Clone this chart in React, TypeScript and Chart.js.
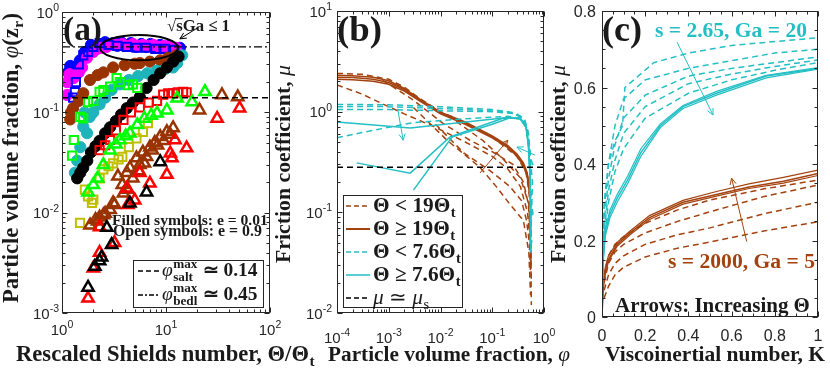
import React, { useEffect, useRef } from "react";
import { Chart, registerables } from "chart.js";

Chart.register(...registerables);

const CW = 830;
const CH = 369;
const SERIF = '"Liberation Serif", "Times New Roman", serif';
const SANS = '"Liberation Sans", Arial, Helvetica, sans-serif';
const AX = "#262626";
const TXT = "#1a1a1a";

const C_BLUE = "#0000ff";
const C_MAG = "#ff00ff";
const C_BRN_A = "#993300";
const C_CYA_A = "#1fb3bb";
const C_BLK = "#000000";
const C_GRN = "#00ff00";
const C_RED = "#ff0000";
const C_OLV = "#bfbf00";
const C_BRN = "#a3420f";
const C_CYA = "#23bfc4";

// ---------------- Panel (a) data ----------------
const aBlueCircX = [1.14, 1.2, 1.3, 1.43, 1.49, 1.66, 1.9, 2.3, 2.6, 2.8, 3.1, 3.4, 3.7, 4.2, 4.6, 5.2, 5.8, 6.4, 7.1, 7.9, 8.8, 9.7, 10.8, 12.0, 13.6];
const aBlueCircY = [0.25, 0.29, 0.27, 0.26, 0.33, 0.4, 0.47, 0.48, 0.5, 0.47, 0.49, 0.46, 0.5, 0.46, 0.49, 0.45, 0.48, 0.45, 0.48, 0.45, 0.47, 0.44, 0.46, 0.44, 0.44];
const aBlueSqX = [1.28, 1.33, 1.36, 1.45, 1.6, 1.78, 2.0, 2.3, 2.8, 3.4, 4.2, 5.2, 6.4, 7.9, 9.7, 12];
const aBlueSqY = [0.14, 0.159, 0.2, 0.3, 0.37, 0.4, 0.45, 0.49, 0.47, 0.46, 0.45, 0.44, 0.44, 0.43, 0.43, 0.42];
const aMagCircX = [1.12, 1.12, 1.18, 1.3, 1.45, 1.56, 1.74, 2.0, 2.2, 2.4, 2.7, 3.0, 3.3, 3.8, 4.3, 4.8, 5.4, 6.0, 6.8, 7.6, 8.6, 9.6, 10.8, 12.5];
const aMagCircY = [0.149, 0.2, 0.24, 0.22, 0.25, 0.28, 0.35, 0.4, 0.43, 0.44, 0.45, 0.47, 0.47, 0.48, 0.46, 0.48, 0.46, 0.47, 0.46, 0.47, 0.45, 0.46, 0.45, 0.44];
const aBrnCircX = [1.2, 1.22, 1.28, 1.45, 1.6, 1.86, 2.2, 2.5, 3.1, 4.0, 5.0, 5.6, 7.0, 8.8, 10.5, 12.5];
const aBrnCircY = [0.085, 0.1, 0.11, 0.13, 0.155, 0.21, 0.235, 0.25, 0.28, 0.295, 0.305, 0.31, 0.32, 0.33, 0.35, 0.37];
const aCyaCircX = [1.33, 1.4, 1.5, 1.6, 1.65, 1.74, 1.85, 2.0, 2.3, 2.6, 3.0, 3.6, 4.4, 5.4, 6.6, 8.1, 9.8, 11.7, 12.8, 14.3];
const aCyaCircY = [0.025, 0.033, 0.045, 0.072, 0.1, 0.062, 0.09, 0.1, 0.12, 0.14, 0.167, 0.19, 0.21, 0.23, 0.245, 0.26, 0.27, 0.28, 0.31, 0.37];
const aBlkCircX = [1.4, 1.5, 1.6, 1.75, 1.9, 2.1, 2.3, 2.6, 2.9, 3.3, 3.7, 4.2, 4.8, 5.6, 6.5, 7.6, 8.8, 10.2, 11.7, 13.2];
const aBlkCircY = [0.022, 0.025, 0.028, 0.033, 0.04, 0.046, 0.052, 0.062, 0.071, 0.082, 0.095, 0.11, 0.125, 0.142, 0.175, 0.21, 0.245, 0.28, 0.32, 0.36];
const aGrnSqX = [1.25, 1.3, 1.49, 1.6, 1.78, 2.0, 2.3, 2.5, 2.9, 3.35, 3.6, 4.3, 4.8, 5.3];
const aGrnSqY = [0.037, 0.053, 0.09, 0.087, 0.126, 0.13, 0.16, 0.167, 0.18, 0.22, 0.2, 0.187, 0.19, 0.175];
const aRedSqX = [2.3, 2.6, 2.9, 3.3, 3.9, 4.6, 5.6, 6.8, 8.2, 9.4, 10.5, 11.7, 13, 14.6, 15.8];
const aRedSqY = [0.042, 0.047, 0.053, 0.066, 0.084, 0.1, 0.112, 0.125, 0.13, 0.15, 0.155, 0.155, 0.158, 0.16, 0.158];
const aOlvSqX = [1.49, 1.66, 1.78, 1.94, 2.0, 2.3, 2.5, 2.8, 3.1, 3.5, 3.8, 4.4, 5.2, 6.0, 6.7];
const aOlvSqY = [0.0079, 0.017, 0.0145, 0.0125, 0.0135, 0.022, 0.027, 0.029, 0.031, 0.034, 0.036, 0.045, 0.055, 0.064, 0.078];
const aGrnTriX = [1.78, 2.0, 2.2, 2.5, 2.9, 3.3, 3.6, 4.1, 4.5, 5.3, 6.2, 7.2, 8.2, 10.2, 12.8, 17.8, 23.7];
const aGrnTriY = [0.016, 0.019, 0.022, 0.03, 0.042, 0.048, 0.053, 0.058, 0.062, 0.075, 0.087, 0.093, 0.098, 0.105, 0.138, 0.127, 0.16];
const aBrnTriX = [1.86, 2.1, 2.2, 2.3, 2.5, 2.6, 2.9, 3.1, 3.2, 3.45, 3.8, 3.9, 4.2, 4.3, 4.5, 4.8, 5.2, 5.5, 5.6, 6.0, 6.2, 6.5, 7.0, 7.4, 7.8, 8.3, 8.8, 9.5, 10.2, 11, 11.7, 21, 34.5, 49];
const aBrnTriY = [0.0075, 0.0085, 0.0082, 0.009, 0.0095, 0.0098, 0.0107, 0.0125, 0.012, 0.023, 0.019, 0.0156, 0.025, 0.017, 0.028, 0.022, 0.035, 0.026, 0.03, 0.04, 0.031, 0.036, 0.045, 0.042, 0.05, 0.047, 0.057, 0.052, 0.064, 0.06, 0.07, 0.105, 0.149, 0.142];
const aRedTriX = [1.78, 2.0, 2.3, 2.3, 3.2, 4.2, 4.3, 5.0, 5.6, 7.0, 10.2, 11.0, 11.4, 12.2, 15.8, 31, 51];
const aRedTriY = [0.0014, 0.0028, 0.004, 0.0072, 0.005, 0.0175, 0.012, 0.0133, 0.025, 0.0196, 0.024, 0.039, 0.035, 0.053, 0.044, 0.087, 0.11];
const aBlkTriX = [1.78, 2.07, 2.3, 2.4, 2.7, 3.0, 4.5, 6.5, 8.8];
const aBlkTriY = [0.0018, 0.0029, 0.0033, 0.0036, 0.0071, 0.0048, 0.0124, 0.016, 0.032];
const aLimX = [1, 100];
const aSaltMax = 0.14;
const aBedlMax = 0.45;
const aEllipseX = [2.32, 13.0];
const aEllipseY = [0.33, 0.59];
const aArrowX = [19.9, 13.6];
const aArrowY = [0.69, 0.54];

const aXTicks = [1, 10, 100];
const aXExp = ["0", "1", "2"];
const aYTicks = [0.001, 0.01, 0.1, 1];
const aYExp = ["-3", "-2", "-1", "0"];

// ---------------- Panel (b) data ----------------
const bSolX = [1e-4, 2e-4, 5e-4, 1e-3, 2e-3, 4e-3, 1e-2, 3e-2, 0.1, 0.2, 0.3, 0.4, 0.47, 0.5, 0.52, 0.53];
const bBrnS1Y = [2.2, 2.18, 2.1, 1.95, 1.65, 1.3, 0.97, 0.77, 0.56, 0.45, 0.37, 0.3, 0.24, 0.2, 0.17, 0.15];
const bBrnS2Y = [2.1, 2.08, 2.0, 1.87, 1.6, 1.27, 0.95, 0.75, 0.55, 0.44, 0.36, 0.29, 0.23, 0.19, 0.16, 0.14];
const bBrnS3Y = [2.3, 2.27, 2.2, 2.03, 1.7, 1.33, 0.99, 0.79, 0.575, 0.46, 0.38, 0.31, 0.25, 0.21, 0.18, 0.16];
const bBrnD1X = [1e-4, 3e-4, 1e-3, 2e-3, 4e-3, 1e-2, 3e-2, 0.1, 0.3, 0.45, 0.52, 0.55, 0.57];
const bBrnD1Y = [2.4, 2.35, 2.1, 1.75, 1.35, 1.0, 0.78, 0.56, 0.36, 0.25, 0.15, 0.06, 0.012];
const bBrnD2X = [1e-4, 3e-4, 7e-4, 2e-3, 8e-3, 3e-2, 0.1, 0.2, 0.35, 0.48, 0.55, 0.57];
const bBrnD2Y = [1.84, 1.5, 1.22, 0.95, 0.7, 0.5, 0.36, 0.27, 0.18, 0.1, 0.045, 0.02];
const bBrnD3X = [7.7e-4, 3e-3, 1.1e-2, 3.7e-2, 0.1, 0.25, 0.4, 0.5, 0.55, 0.56];
const bBrnD3Y = [2.05, 1.3, 0.77, 0.52, 0.4, 0.3, 0.2, 0.12, 0.05, 0.03];
const bBrnD4X = [3e-3, 1.34e-2, 5.8e-2, 0.12, 0.22, 0.4, 0.51, 0.55];
const bBrnD4Y = [1.1, 0.52, 0.28, 0.18, 0.12, 0.083, 0.04, 0.015];
const bBrnD5X = [8e-3, 2.8e-2, 9e-2, 0.22, 0.37, 0.46, 0.52, 0.55];
const bBrnD5Y = [0.75, 0.39, 0.26, 0.18, 0.13, 0.083, 0.05, 0.025];
const bBrnD6X = [2e-2, 6.5e-2, 0.17, 0.35, 0.51, 0.55, 0.56];
const bBrnD6Y = [0.8, 0.52, 0.33, 0.22, 0.12, 0.06, 0.03];
const bCyaD1X = [1e-4, 1e-3, 1e-2, 0.1, 0.25, 0.35, 0.45, 0.5, 0.53, 0.55, 0.56, 0.57, 0.56];
const bCyaD1Y = [1.18, 1.17, 1.12, 1.05, 0.98, 0.88, 0.7, 0.5, 0.3, 0.15, 0.08, 0.05, 0.04];
const bCyaD2X = [1e-4, 5e-4, 3e-3, 3e-2, 0.2, 0.35, 0.45, 0.52, 0.55, 0.58, 0.56, 0.58];
const bCyaD2Y = [1.12, 1.13, 1.1, 1.05, 1.0, 0.9, 0.72, 0.42, 0.2, 0.1, 0.07, 0.05];
const bCyaD3X = [1e-4, 1e-3, 1e-2, 0.1, 0.3, 0.42, 0.5, 0.54, 0.6, 0.58, 0.62];
const bCyaD3Y = [1.05, 1.05, 1.02, 1.0, 0.95, 0.85, 0.62, 0.35, 0.2, 0.12, 0.09];
const bCyaD4X = [1e-4, 3e-4, 3e-3, 0.03, 0.2, 0.4, 0.5, 0.55, 0.6, 0.65];
const bCyaD4Y = [0.55, 0.62, 0.78, 0.85, 0.9, 0.85, 0.6, 0.35, 0.3, 0.3];
const bCyaS1X = [1e-4, 2.6e-3, 0.22, 0.35, 0.45, 0.5, 0.53, 0.55, 0.54, 0.56, 0.55];
const bCyaS1Y = [0.79, 0.69, 0.88, 0.85, 0.7, 0.45, 0.25, 0.12, 0.07, 0.05, 0.04];
const bCyaS2X = [2.4e-4, 2.6e-3, 0.0153, 0.16, 0.35, 0.45, 0.5, 0.53, 0.55, 0.56];
const bCyaS2Y = [0.31, 0.245, 0.56, 0.86, 0.86, 0.72, 0.5, 0.28, 0.12, 0.06];
const bCyaS3X = [3.0e-3, 1.67e-2, 0.1, 0.22, 0.35, 0.45, 0.5, 0.54, 0.55, 0.54];
const bCyaS3Y = [0.166, 0.56, 0.75, 0.87, 0.84, 0.7, 0.48, 0.22, 0.1, 0.05];
const bLimX = [1e-4, 1];
const bMuS = 0.28;
const bArrowCyaX = [1.5e-3, 1.9e-3];
const bArrowCyaY = [1.04, 0.52];
const bArrowCya2X = [0.67, 0.3];
const bArrowCya2Y = [0.37, 0.445];
const bArrowBrnX = [0.058, 0.2];
const bArrowBrnY = [0.246, 0.52];

const bXTicks = [1e-4, 1e-3, 1e-2, 1e-1, 1];
const bXExp = ["-4", "-3", "-2", "-1", "0"];
const bYTicks = [0.01, 0.1, 1, 10];
const bYExp = ["-2", "-1", "0", "1"];

// ---------------- Panel (c) data ----------------
const cCyaD1X = [0, 0.01, 0.03, 0.06, 0.095, 0.106, 0.24, 0.4, 0.6, 0.8, 1];
const cCyaD1Y = [0.1, 0.3, 0.4, 0.46, 0.5, 0.6, 0.665, 0.69, 0.71, 0.72, 0.73];
const cCyaDX = [0, 0.01, 0.03, 0.06, 0.1, 0.2, 0.4, 0.6, 0.8, 1];
const cCyaD2Y = [0.1, 0.28, 0.4, 0.5, 0.57, 0.62, 0.65, 0.67, 0.69, 0.7];
const cCyaD3Y = [0.08, 0.25, 0.36, 0.45, 0.52, 0.58, 0.63, 0.65, 0.665, 0.68];
const cCyaD4Y = [0.07, 0.22, 0.33, 0.41, 0.48, 0.55, 0.61, 0.635, 0.655, 0.672];
const cCyaD5Y = [0.06, 0.2, 0.3, 0.38, 0.44, 0.52, 0.585, 0.62, 0.645, 0.665];
const cCyaSX = [0, 0.005, 0.015, 0.037, 0.07, 0.12, 0.18, 0.27, 0.375, 0.53, 0.76, 1.0];
const cCyaS1Y = [0.05, 0.15, 0.22, 0.27, 0.31, 0.36, 0.43, 0.5, 0.55, 0.585, 0.63, 0.65];
const cCyaS2Y = [0.06, 0.16, 0.23, 0.28, 0.32, 0.37, 0.44, 0.505, 0.553, 0.59, 0.632, 0.652];
const cCyaS3Y = [0.04, 0.14, 0.21, 0.26, 0.3, 0.35, 0.42, 0.495, 0.545, 0.58, 0.625, 0.648];
const cBrnSX = [0, 0.005, 0.015, 0.03, 0.07, 0.13, 0.22, 0.375, 0.53, 0.68, 0.84, 1.0];
const cBrnS1Y = [0.0, 0.08, 0.12, 0.15, 0.19, 0.22, 0.26, 0.3, 0.32, 0.34, 0.355, 0.375];
const cBrnS2Y = [0.01, 0.09, 0.13, 0.16, 0.195, 0.225, 0.265, 0.305, 0.328, 0.348, 0.365, 0.384];
const cBrnS3Y = [0.0, 0.07, 0.11, 0.145, 0.185, 0.215, 0.255, 0.295, 0.316, 0.336, 0.35, 0.37];
const cBrnDX = [0.01, 0.03, 0.06, 0.1, 0.2, 0.35, 0.5, 0.75, 1];
const cBrnD1Y = [0.11, 0.16, 0.19, 0.21, 0.245, 0.28, 0.306, 0.335, 0.358];
const cBrnD2Y = [0.09, 0.14, 0.17, 0.19, 0.22, 0.25, 0.275, 0.315, 0.345];
const cBrnD3Y = [0.07, 0.11, 0.14, 0.16, 0.19, 0.215, 0.233, 0.27, 0.3];
const cBrnD4Y = [0.05, 0.08, 0.11, 0.13, 0.157, 0.18, 0.196, 0.225, 0.249];
const cArrowCyaX = [0.347, 0.514];
const cArrowCyaY = [0.719, 0.528];
const cArrowBrnX = [0.67, 0.6];
const cArrowBrnY = [0.197, 0.363];

const cXTicks = [0, 0.2, 0.4, 0.6, 0.8, 1];
const cXLabels = ["0", "0.2", "0.4", "0.6", "0.8", "1"];
const cYTicks = [0, 0.2, 0.4, 0.6, 0.8];
const cYLabels = ["0", "0.2", "0.4", "0.6", "0.8"];

// ---------------- helpers ----------------
function pts(xs: number[], ys: number[]) {
  return xs.map((x, i) => ({ x, y: ys[i] }));
}

function marks(xs: number[], ys: number[], style: string, color: string, filled: boolean, r: number, bw: number) {
  const fill = filled ? color : "rgba(0,0,0,0)";
  return {
    data: pts(xs, ys),
    showLine: false,
    pointStyle: style,
    pointRadius: r,
    pointHoverRadius: r,
    pointBackgroundColor: fill,
    pointBorderColor: color,
    pointBorderWidth: bw,
    backgroundColor: fill,
    borderColor: color,
  };
}

function line(xs: number[], ys: number[], color: string, dash: number[], lw: number) {
  return {
    data: pts(xs, ys),
    showLine: true,
    borderColor: color,
    backgroundColor: color,
    borderWidth: lw,
    borderDash: dash,
    pointRadius: 0,
    pointHoverRadius: 0,
    fill: false,
    tension: 0,
  };
}

function logMinor(e0: number, e1: number) {
  const out: number[] = [];
  for (let e = e0; e < e1; e++) for (let m = 2; m <= 9; m++) out.push(m * Math.pow(10, e));
  return out;
}
function linMinor(a: number, b: number, step: number) {
  const out: number[] = [];
  for (let v = a; v <= b + 1e-9; v += step) out.push(+v.toFixed(6));
  return out;
}

type Seg = { t?: string; sub?: string; sup?: string; it?: boolean; bold?: boolean; ol?: boolean };

function fnt(size: number, it?: boolean, bold?: boolean) {
  return `${it ? "italic " : ""}${bold ? "bold " : ""}${size.toFixed(2)}px ${SERIF}`;
}
function segW(ctx: CanvasRenderingContext2D, s: Seg, size: number, defBold: boolean) {
  const b = s.bold ?? defBold;
  if (s.t !== undefined) {
    ctx.font = fnt(size, s.it, b);
    return ctx.measureText(s.t).width;
  }
  ctx.font = fnt(size * 0.68, s.it, b);
  const w1 = s.sup ? ctx.measureText(s.sup).width : 0;
  const w2 = s.sub ? ctx.measureText(s.sub).width : 0;
  return Math.max(w1, w2) + size * 0.04;
}
function richW(ctx: CanvasRenderingContext2D, segs: Seg[], size: number, defBold: boolean) {
  return segs.reduce((a, s) => a + segW(ctx, s, size, defBold), 0);
}
function richDraw(ctx: CanvasRenderingContext2D, segs: Seg[], x: number, y: number, size: number, defBold: boolean, color: string) {
  ctx.fillStyle = color;
  ctx.strokeStyle = color;
  ctx.textAlign = "left";
  ctx.textBaseline = "alphabetic";
  let cx = x;
  for (const s of segs) {
    const w = segW(ctx, s, size, defBold);
    const b = s.bold ?? defBold;
    if (s.t !== undefined) {
      ctx.font = fnt(size, s.it, b);
      ctx.fillText(s.t, cx, y);
      if (s.ol) {
        ctx.lineWidth = Math.max(1, size * 0.06);
        ctx.beginPath();
        ctx.moveTo(cx - 1, y - size * 0.74);
        ctx.lineTo(cx + w, y - size * 0.74);
        ctx.stroke();
      }
    } else {
      ctx.font = fnt(size * 0.68, s.it, b);
      if (s.sup) ctx.fillText(s.sup, cx + size * 0.02, y - size * 0.42);
      if (s.sub) ctx.fillText(s.sub, cx + size * 0.02, y + size * 0.24);
    }
    cx += w;
  }
}
type TextSpec = { segs: Seg[]; x: number; y: number; w: number; align?: string; rot?: boolean; bold?: boolean; color?: string; size?: number };
function fitSize(ctx: CanvasRenderingContext2D, segs: Seg[], w: number, bold: boolean) {
  return (20 * w) / richW(ctx, segs, 20, bold);
}
function drawText(ctx: CanvasRenderingContext2D, ts: TextSpec) {
  const bold = ts.bold ?? true;
  const size = ts.size ?? fitSize(ctx, ts.segs, ts.w, bold);
  const w = richW(ctx, ts.segs, size, bold);
  ctx.save();
  ctx.translate(ts.x, ts.y);
  if (ts.rot) ctx.rotate(-Math.PI / 2);
  const off = ts.align === "center" ? -w / 2 : ts.align === "right" ? -w : 0;
  richDraw(ctx, ts.segs, off, 0, size, bold, ts.color ?? TXT);
  ctx.restore();
  return size;
}

function arrow(ctx: CanvasRenderingContext2D, x1: number, y1: number, x2: number, y2: number, color: string, lw = 1, head = 7) {
  ctx.save();
  ctx.strokeStyle = color;
  ctx.lineWidth = lw;
  ctx.setLineDash([]);
  ctx.beginPath();
  ctx.moveTo(x1, y1);
  ctx.lineTo(x2, y2);
  const a = Math.atan2(y2 - y1, x2 - x1);
  ctx.moveTo(x2 - head * Math.cos(a - 0.45), y2 - head * Math.sin(a - 0.45));
  ctx.lineTo(x2, y2);
  ctx.lineTo(x2 - head * Math.cos(a + 0.45), y2 - head * Math.sin(a + 0.45));
  ctx.stroke();
  ctx.restore();
}
function P(chart: any, x: number, y: number) {
  return [chart.scales.x.getPixelForValue(x), chart.scales.y.getPixelForValue(y)];
}
function dataArrow(chart: any, xs: number[], ys: number[], color: string) {
  const [x1, y1] = P(chart, xs[0], ys[0]);
  const [x2, y2] = P(chart, xs[1], ys[1]);
  arrow(chart.ctx, x1, y1, x2, y2, color, 1, 7);
}

type TL = { base: string; exp?: string };
function tlW(ctx: CanvasRenderingContext2D, l: TL, fs: number) {
  ctx.font = `${fs}px ${SANS}`;
  let w = ctx.measureText(l.base).width;
  if (l.exp) {
    ctx.font = `${(fs * 0.7).toFixed(1)}px ${SANS}`;
    w += ctx.measureText(l.exp).width;
  }
  return w;
}
function tlDraw(ctx: CanvasRenderingContext2D, l: TL, x: number, y: number, fs: number) {
  ctx.textAlign = "left";
  ctx.textBaseline = "alphabetic";
  ctx.font = `${fs}px ${SANS}`;
  ctx.fillText(l.base, x, y);
  if (l.exp) {
    const w0 = ctx.measureText(l.base).width;
    ctx.font = `${(fs * 0.7).toFixed(1)}px ${SANS}`;
    ctx.fillText(l.exp, x + w0, y - fs * 0.45);
  }
}

type FrameCfg = {
  xMaj: number[];
  xMin: number[];
  yMaj: number[];
  yMin: number[];
  xLab: TL[];
  yLab: TL[];
  fs: number;
  xLabBase: number;
  yLabGap: number;
  extras?: (chart: any, ctx: CanvasRenderingContext2D) => void;
};

function framePlugin(id: string, fc: FrameCfg) {
  return {
    id,
    afterDraw(chart: any) {
      const ctx = chart.ctx as CanvasRenderingContext2D;
      const ca = chart.chartArea;
      const xs = chart.scales.x;
      const ys = chart.scales.y;
      ctx.save();
      if (fc.extras) fc.extras(chart, ctx);
      const L = Math.round(ca.left) + 0.5;
      const R = Math.round(ca.right) - 0.5;
      const T = Math.round(ca.top) + 0.5;
      const B = Math.round(ca.bottom) - 0.5;
      ctx.strokeStyle = AX;
      ctx.lineWidth = 1;
      ctx.setLineDash([]);
      ctx.beginPath();
      const tx = (v: number, len: number) => {
        const p = Math.round(xs.getPixelForValue(v)) + 0.5;
        ctx.moveTo(p, B);
        ctx.lineTo(p, B - len);
        ctx.moveTo(p, T);
        ctx.lineTo(p, T + len);
      };
      const ty = (v: number, len: number) => {
        const p = Math.round(ys.getPixelForValue(v)) + 0.5;
        ctx.moveTo(L, p);
        ctx.lineTo(L + len, p);
        ctx.moveTo(R, p);
        ctx.lineTo(R - len, p);
      };
      fc.xMaj.forEach((v) => tx(v, 5));
      fc.xMin.forEach((v) => tx(v, 3));
      fc.yMaj.forEach((v) => ty(v, 5));
      fc.yMin.forEach((v) => ty(v, 3));
      ctx.stroke();
      ctx.strokeRect(L, T, R - L, B - T);
      ctx.fillStyle = AX;
      fc.xMaj.forEach((v, i) => {
        const l = fc.xLab[i];
        const w = tlW(ctx, l, fc.fs);
        tlDraw(ctx, l, xs.getPixelForValue(v) - w / 2, fc.xLabBase, fc.fs);
      });
      fc.yMaj.forEach((v, i) => {
        const l = fc.yLab[i];
        const w = tlW(ctx, l, fc.fs);
        tlDraw(ctx, l, ca.left - fc.yLabGap - w, ys.getPixelForValue(v) + fc.fs * 0.38, fc.fs);
      });
      ctx.restore();
    },
  };
}

function makeConfig(datasets: any[], pad: any, xScale: any, yScale: any, plugin: any) {
  return {
    type: "scatter",
    data: { datasets },
    options: {
      responsive: false,
      maintainAspectRatio: false,
      animation: false,
      devicePixelRatio: 1,
      events: [],
      layout: { padding: pad },
      plugins: { legend: { display: false }, tooltip: { enabled: false }, title: { display: false } },
      scales: { x: { ...xScale, display: false }, y: { ...yScale, display: false } },
    },
    plugins: [plugin],
  } as any;
}

const expLabels = (e: string[]) => e.map((x) => ({ base: "10", exp: x }));
const plainLabels = (e: string[]) => e.map((x) => ({ base: x }));

// ---------------- Panel (a) ----------------
function configA() {
  const datasets = [
    line(aLimX, [aBedlMax, aBedlMax], "#000", [8, 3, 2, 3], 1.3),
    line(aLimX, [aSaltMax, aSaltMax], "#000", [6, 4], 1.5),
    marks(aBlkTriX, aBlkTriY, "triangle", C_BLK, false, 6.5, 2.5),
    marks(aRedTriX, aRedTriY, "triangle", C_RED, false, 6.5, 2.5),
    marks(aBrnTriX, aBrnTriY, "triangle", C_BRN_A, false, 6.5, 2.5),
    marks(aGrnTriX, aGrnTriY, "triangle", C_GRN, false, 6.5, 2.5),
    marks(aOlvSqX, aOlvSqY, "rect", C_OLV, false, 5.8, 2),
    marks(aRedSqX, aRedSqY, "rect", C_RED, false, 5.8, 2),
    marks(aGrnSqX, aGrnSqY, "rect", C_GRN, false, 5.8, 2),
    marks(aBlkCircX, aBlkCircY, "circle", C_BLK, true, 5.6, 1),
    marks(aCyaCircX, aCyaCircY, "circle", C_CYA_A, true, 5.6, 1),
    marks(aBrnCircX, aBrnCircY, "circle", C_BRN_A, true, 5.6, 1),
    marks(aBlueSqX, aBlueSqY, "rect", C_BLUE, false, 5.8, 2),
    marks(aMagCircX, aMagCircY, "circle", C_MAG, true, 5.6, 1),
    marks(aBlueCircX, aBlueCircY, "circle", C_BLUE, true, 5.6, 1),
  ];
  const extras = (chart: any, ctx: CanvasRenderingContext2D) => {
    const [ex0, ey0] = P(chart, aEllipseX[0], aEllipseY[0]);
    const [ex1, ey1] = P(chart, aEllipseX[1], aEllipseY[1]);
    ctx.save();
    ctx.strokeStyle = "#000";
    ctx.lineWidth = 2;
    ctx.setLineDash([]);
    ctx.beginPath();
    ctx.ellipse((ex0 + ex1) / 2, (ey0 + ey1) / 2, Math.abs(ex1 - ex0) / 2, Math.abs(ey1 - ey0) / 2, 0, 0, Math.PI * 2);
    ctx.stroke();
    ctx.restore();
    dataArrow(chart, aArrowX, aArrowY, "#000");
    drawText(ctx, { segs: [{ t: "√" }, { t: "s", ol: true }, { t: "Ga ≤ 1" }], x: 167, y: 31, w: 63 });
    drawText(ctx, { segs: [{ t: "(a)" }], x: 63, y: 40, w: 39 });
    drawText(ctx, { segs: [{ t: "Filled symbols: e = 0.01" }], x: 112, y: 225, w: 156 });
    drawText(ctx, { segs: [{ t: "Open symbols: e = 0.9" }], x: 113, y: 236, w: 149 });
    ctx.save();
    ctx.fillStyle = "#fff";
    ctx.strokeStyle = AX;
    ctx.lineWidth = 1;
    ctx.setLineDash([]);
    ctx.fillRect(133.5, 260.5, 130, 47);
    ctx.strokeRect(133.5, 260.5, 130, 47);
    ctx.strokeStyle = "#000";
    ctx.lineWidth = 1.5;
    ctx.setLineDash([5, 3]);
    ctx.beginPath();
    ctx.moveTo(138, 271);
    ctx.lineTo(160, 271);
    ctx.stroke();
    ctx.setLineDash([5, 2, 2, 2]);
    ctx.beginPath();
    ctx.moveTo(138, 295);
    ctx.lineTo(160, 295);
    ctx.stroke();
    ctx.restore();
    const row1: Seg[] = [{ t: "φ", it: true, bold: false }, { sup: "max", sub: "salt" }, { t: " ≃ 0.14" }];
    const row2: Seg[] = [{ t: "φ", it: true, bold: false }, { sup: "max", sub: "bedl" }, { t: " ≃ 0.45" }];
    const fs = fitSize(ctx, row1, 96, true);
    drawText(ctx, { segs: row1, x: 162, y: 276, w: 0, size: fs });
    drawText(ctx, { segs: row2, x: 162, y: 300, w: 0, size: fs });
    drawText(ctx, { segs: [{ t: "Rescaled Shields number, Θ/Θ" }, { sub: "t" }], x: 165.5, y: 361, w: 299, align: "center" });
    drawText(ctx, { segs: [{ t: "Particle volume fraction, " }, { t: "φ", it: true, bold: false }, { t: "(z" }, { sub: "r" }, { t: ")" }], x: 18, y: 158, w: 290, align: "center", rot: true });
  };
  const fc: FrameCfg = {
    xMaj: aXTicks,
    xMin: logMinor(0, 2),
    yMaj: aYTicks,
    yMin: logMinor(-3, 0),
    xLab: expLabels(aXExp),
    yLab: expLabels(aYExp),
    fs: 15,
    xLabBase: 335,
    yLabGap: 3,
    extras,
  };
  return makeConfig(
    datasets,
    { left: 62, top: 12, right: CW - 270, bottom: CH - 313 },
    { type: "logarithmic", min: 1, max: 100 },
    { type: "logarithmic", min: 0.001, max: 1 },
    framePlugin("frameA", fc)
  );
}

// ---------------- Panel (b) ----------------
function configB() {
  const D = [6, 4];
  const datasets = [
    line(bLimX, [bMuS, bMuS], "#000", D, 1.5),
    line(bCyaS1X, bCyaS1Y, C_CYA, [], 1.5),
    line(bCyaS2X, bCyaS2Y, C_CYA, [], 1.5),
    line(bCyaS3X, bCyaS3Y, C_CYA, [], 1.5),
    line(bCyaD1X, bCyaD1Y, C_CYA, D, 1.5),
    line(bCyaD2X, bCyaD2Y, C_CYA, D, 1.5),
    line(bCyaD3X, bCyaD3Y, C_CYA, D, 1.5),
    line(bCyaD4X, bCyaD4Y, C_CYA, D, 1.5),
    line(bSolX, bBrnS1Y, C_BRN, [], 1.5),
    line(bSolX, bBrnS2Y, C_BRN, [], 1.5),
    line(bSolX, bBrnS3Y, C_BRN, [], 1.5),
    line(bBrnD1X, bBrnD1Y, C_BRN, D, 1.5),
    line(bBrnD2X, bBrnD2Y, C_BRN, D, 1.5),
    line(bBrnD3X, bBrnD3Y, C_BRN, D, 1.5),
    line(bBrnD4X, bBrnD4Y, C_BRN, D, 1.5),
    line(bBrnD5X, bBrnD5Y, C_BRN, D, 1.5),
    line(bBrnD6X, bBrnD6Y, C_BRN, D, 1.5),
  ];
  const extras = (chart: any, ctx: CanvasRenderingContext2D) => {
    dataArrow(chart, bArrowCyaX, bArrowCyaY, C_CYA);
    dataArrow(chart, bArrowCya2X, bArrowCya2Y, C_CYA);
    dataArrow(chart, bArrowBrnX, bArrowBrnY, C_BRN);
    drawText(ctx, { segs: [{ t: "(b)" }], x: 337, y: 41, w: 45 });
    ctx.save();
    ctx.fillStyle = "#fff";
    ctx.strokeStyle = AX;
    ctx.lineWidth = 1;
    ctx.setLineDash([]);
    ctx.fillRect(343.5, 195.5, 119, 112);
    ctx.strokeRect(343.5, 195.5, 119, 112);
    const rowsY = [206, 229, 252, 275, 298];
    const rowStyle = [
      [C_BRN, [5, 3], 1.5],
      [C_BRN, [], 2],
      [C_CYA, [5, 3], 1.5],
      [C_CYA, [], 1.5],
      ["#000", [5, 3], 1.5],
    ] as any[];
    rowsY.forEach((y, i) => {
      ctx.strokeStyle = rowStyle[i][0];
      ctx.setLineDash(rowStyle[i][1]);
      ctx.lineWidth = rowStyle[i][2];
      ctx.beginPath();
      ctx.moveTo(346, y);
      ctx.lineTo(370, y);
      ctx.stroke();
    });
    ctx.restore();
    const rows: Seg[][] = [
      [{ t: "Θ < 19Θ" }, { sub: "t" }],
      [{ t: "Θ ≥ 19Θ" }, { sub: "t" }],
      [{ t: "Θ < 7.6Θ" }, { sub: "t" }],
      [{ t: "Θ ≥ 7.6Θ" }, { sub: "t" }],
      [{ t: "μ", it: true, bold: false }, { t: " ≃ ", bold: false }, { t: "μ", it: true, bold: false }, { sub: "s", bold: false }],
    ];
    const fs = fitSize(ctx, rows[0], 83, true);
    rows.forEach((r, i) => drawText(ctx, { segs: r, x: 373, y: rowsY[i] + 6, w: 0, size: fs }));
    drawText(ctx, { segs: [{ t: "Particle volume fraction, " }, { t: "φ", it: true, bold: false }], x: 449, y: 361, w: 242, align: "center" });
    drawText(ctx, { segs: [{ t: "Friction coefficient, " }, { t: "μ", it: true, bold: false }], x: 290, y: 164, w: 198, align: "center", rot: true });
  };
  const fc: FrameCfg = {
    xMaj: bXTicks,
    xMin: logMinor(-4, 0),
    yMaj: bYTicks,
    yMin: logMinor(-2, 1),
    xLab: expLabels(bXExp),
    yLab: expLabels(bYExp),
    fs: 15,
    xLabBase: 343,
    yLabGap: 5,
    extras,
  };
  return makeConfig(
    datasets,
    { left: 337, top: 11, right: CW - 544, bottom: CH - 313 },
    { type: "logarithmic", min: 1e-4, max: 1 },
    { type: "logarithmic", min: 0.01, max: 10 },
    framePlugin("frameB", fc)
  );
}

// ---------------- Panel (c) ----------------
function configC() {
  const D = [6, 4];
  const datasets = [
    line(cCyaSX, cCyaS1Y, C_CYA, [], 1.5),
    line(cCyaSX, cCyaS2Y, C_CYA, [], 1.2),
    line(cCyaSX, cCyaS3Y, C_CYA, [], 1.2),
    line(cCyaD1X, cCyaD1Y, C_CYA, D, 1.5),
    line(cCyaDX, cCyaD2Y, C_CYA, D, 1.5),
    line(cCyaDX, cCyaD3Y, C_CYA, D, 1.5),
    line(cCyaDX, cCyaD4Y, C_CYA, D, 1.5),
    line(cCyaDX, cCyaD5Y, C_CYA, D, 1.5),
    line(cBrnSX, cBrnS1Y, C_BRN, [], 1.5),
    line(cBrnSX, cBrnS2Y, C_BRN, [], 1.2),
    line(cBrnSX, cBrnS3Y, C_BRN, [], 1.2),
    line(cBrnDX, cBrnD1Y, C_BRN, D, 1.5),
    line(cBrnDX, cBrnD2Y, C_BRN, D, 1.5),
    line(cBrnDX, cBrnD3Y, C_BRN, D, 1.5),
    line(cBrnDX, cBrnD4Y, C_BRN, D, 1.5),
  ];
  const extras = (chart: any, ctx: CanvasRenderingContext2D) => {
    dataArrow(chart, cArrowCyaX, cArrowCyaY, C_CYA);
    dataArrow(chart, cArrowBrnX, cArrowBrnY, C_BRN);
    drawText(ctx, { segs: [{ t: "(c)" }], x: 602, y: 41, w: 40 });
    drawText(ctx, { segs: [{ t: "s = 2.65, Ga = 20" }], x: 655, y: 37, w: 152, color: C_CYA });
    drawText(ctx, { segs: [{ t: "s = 2000, Ga = 5" }], x: 668, y: 268, w: 147, color: C_BRN });
    drawText(ctx, { segs: [{ t: "Arrows: Increasing Θ" }], x: 615, y: 312, w: 195 });
    drawText(ctx, { segs: [{ t: "Viscoinertial number, K" }], x: 715, y: 361, w: 220, align: "center" });
    drawText(ctx, { segs: [{ t: "Friction coefficient, " }, { t: "μ", it: true, bold: false }], x: 565, y: 164, w: 198, align: "center", rot: true });
  };
  const fc: FrameCfg = {
    xMaj: cXTicks,
    xMin: linMinor(0, 1, 0.05),
    yMaj: cYTicks,
    yMin: linMinor(0, 0.8, 0.05),
    xLab: plainLabels(cXLabels),
    yLab: plainLabels(cYLabels),
    fs: 16,
    xLabBase: 341,
    yLabGap: 6,
    extras,
  };
  return makeConfig(
    datasets,
    { left: 602, top: 11, right: CW - 818, bottom: CH - 317 },
    { type: "linear", min: 0, max: 1 },
    { type: "linear", min: 0, max: 0.8 },
    framePlugin("frameC", fc)
  );
}

export default function App() {
  const ra = useRef<HTMLCanvasElement>(null);
  const rb = useRef<HTMLCanvasElement>(null);
  const rc = useRef<HTMLCanvasElement>(null);
  useEffect(() => {
    const charts = [
      new Chart(ra.current as HTMLCanvasElement, configA()),
      new Chart(rb.current as HTMLCanvasElement, configB()),
      new Chart(rc.current as HTMLCanvasElement, configC()),
    ];
    return () => charts.forEach((c) => c.destroy());
  }, []);
  const st: React.CSSProperties = { position: "absolute", left: 0, top: 0, width: CW, height: CH };
  return (
    <div style={{ position: "absolute", left: 0, top: 0, width: CW, height: CH, background: "#fff", overflow: "hidden" }}>
      <canvas ref={ra} width={CW} height={CH} style={st} />
      <canvas ref={rb} width={CW} height={CH} style={st} />
      <canvas ref={rc} width={CW} height={CH} style={st} />
    </div>
  );
}
